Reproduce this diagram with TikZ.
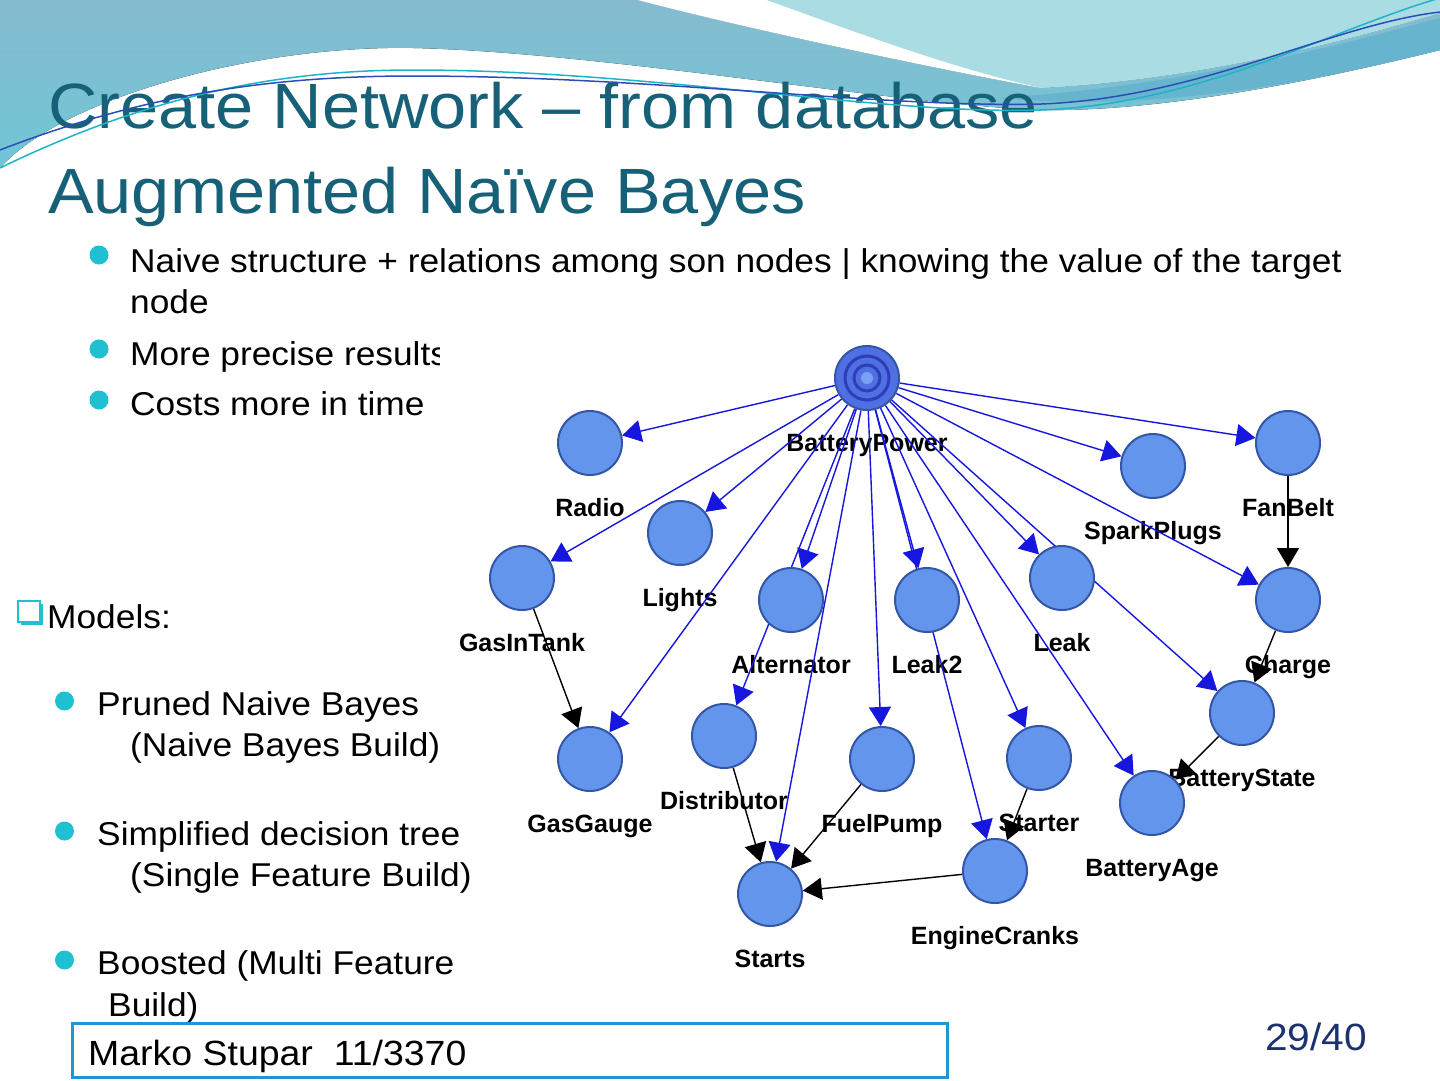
\documentclass[tikz,border=0pt]{standalone}
\usepackage{fontspec}
\setmainfont{Liberation Sans}
\newfontfamily\titlefont[FakeStretch=1.07]{Liberation Sans}
\newfontfamily\slidefont[FakeStretch=1.07]{Liberation Sans}
\usetikzlibrary{positioning,arrows.meta}

\definecolor{titleteal}{RGB}{22,96,120}
\definecolor{bulletcyan}{RGB}{30,192,210}
\definecolor{nodefill}{RGB}{100,149,237}
\definecolor{nodeedge}{RGB}{52,86,166}
\definecolor{bpfill}{RGB}{80,112,226}
\definecolor{ringdark}{RGB}{45,62,188}
\definecolor{ringlight}{RGB}{122,160,246}
\definecolor{edgeblue}{RGB}{22,22,222}
\definecolor{waveteal}{RGB}{134,187,207}
\definecolor{wavecyan}{RGB}{112,198,214}
\definecolor{wavelight}{RGB}{170,220,228}
\definecolor{wavedark}{RGB}{102,180,205}
\definecolor{lineblue}{RGB}{40,80,180}
\definecolor{linecyan}{RGB}{30,180,200}
\definecolor{footblue}{RGB}{30,150,210}
\definecolor{pagenum}{RGB}{28,50,110}

\pgfdeclarelayer{back}
\pgfdeclarelayer{edges}
\pgfsetlayers{back,edges,main}

\tikzset{
  var/.style={circle, draw=nodeedge, fill=nodefill, line width=2pt, minimum size=64pt, inner sep=0pt},
  lbl/.style={font=\bfseries\fontsize{25}{25}\selectfont, text height=18pt, text depth=5pt, inner sep=0pt, below=22pt of #1},
  bluearc/.style={draw=edgeblue, line width=1.4pt, -{Triangle[length=19pt,width=22pt]}},
  blackarc/.style={draw=black, line width=1.4pt, -{Triangle[length=19pt,width=22pt]}},
  txt/.style={anchor=base west, inner sep=0pt, font=\slidefont\fontsize{33}{40}\selectfont},
  titletxt/.style={anchor=base west, inner sep=0pt, text=titleteal, font=\titlefont\fontsize{64}{70}\selectfont}
}

\begin{document}
\begin{tikzpicture}[x=1pt, y=-1pt]
	\useasboundingbox (0,0) rectangle (1440,1080);

	% slide background and waves
	\begin{pgfonlayer}{back}
		\fill[white] (0,0) rectangle (1440,1080);
		\fill[top color=waveteal, bottom color=wavecyan] (0,0) -- (640,0) .. controls (720,22) and (900,62) .. (1041,88) .. controls (1200,80) and (1350,40) .. (1440,13) -- (1440,50) .. controls (1300,85) and (1150,112) .. (1041,110) .. controls (900,105) and (600,52) .. (413,48) .. controls (250,45) and (60,100) .. (0,168) -- cycle;
		\fill[wavelight] (766,0) .. controls (850,30) and (950,70) .. (1041,88) .. controls (1200,80) and (1350,40) .. (1440,13) -- (1440,0) -- cycle;
		\fill[wavedark] (1000,98) .. controls (1200,84) and (1350,42) .. (1440,18) -- (1440,50) .. controls (1300,85) and (1150,112) .. (1000,98) -- cycle;
		\fill[white] (638,0) .. controls (720,22) and (900,62) .. (1041,88) .. controls (950,68) and (850,30) .. (766,0) -- cycle;

		% this bullet is partly hidden by the picture
		\fill[bulletcyan] (99,349) circle (9.5pt);
		\node[txt] (b2) at (130,365) {More precise results};
		\fill[white] (440,330) rectangle (1345,995);
	\end{pgfonlayer}

	% title
	\node[titletxt] (t1) at (48,128) {Create Network – from database};
	\node[titletxt] (t2) at (48,213) {Augmented Naïve Bayes};
	\draw[linecyan, line width=1.5pt] (0,168) .. controls (150,95) and (280,70) .. (413,70) .. controls (650,70) and (880,115) .. (1041,110) .. controls (1200,104) and (1330,30) .. (1440,-2);
	\draw[lineblue, line width=1.5pt] (0,150) .. controls (150,92) and (280,76) .. (413,76) .. controls (650,76) and (880,108) .. (1041,104) .. controls (1200,98) and (1330,25) .. (1440,12);

	% bullets
	\fill[bulletcyan] (99,255) circle (9.5pt);
	\node[txt] (b1) at (130,272) {Naive structure + relations among son nodes | knowing the value of the target};
	\node[txt] (b1b) at (130,313) {node};
	\fill[bulletcyan] (99,400) circle (9.5pt);
	\node[txt] (b3) at (130,415) {Costs more in time};

	\draw[bulletcyan, line width=2.5pt] (18,601) rectangle (40,622);
	\draw[bulletcyan, line width=2.5pt] (21,624) -- (42,624) -- (42,604);
	\node[txt] (models) at (47,628) {Models:};

	\fill[bulletcyan] (64.5,701) circle (9.5pt);
	\node[txt] (m1) at (97,715) {Pruned Naive Bayes};
	\node[txt] (m1b) at (130,756) {(Naive Bayes Build)};
	\fill[bulletcyan] (64.5,831) circle (9.5pt);
	\node[txt] (m2) at (97,845) {Simplified decision tree};
	\node[txt] (m2b) at (130,886) {(Single Feature Build)};
	\fill[bulletcyan] (64.5,960) circle (9.5pt);
	\node[txt] (m3) at (97,974) {Boosted (Multi Feature};
	\node[txt] (m3b) at (108,1016) {Build)};

	% footer
	\draw[footblue, line width=3pt] (72,1023) rectangle (947,1077);
	\node[txt, font=\slidefont\fontsize{35}{40}\selectfont] (author) at (88,1065) {Marko Stupar\ \ 11/3370};
	\node[txt, anchor=base east, text=pagenum, font=\slidefont\fontsize{38}{40}\selectfont] (pg) at (1367,1050) {29/40};

	% network nodes
	\node[var, fill=bpfill] (bp) at (867,378) {};
	\draw[ringdark, line width=3pt] (bp.center) circle (22pt) circle (13pt);
	\fill[ringlight] (bp.center) circle (6pt);
	\node[var] (radio) at (590,443) {};
	\node[var] (lights) at (680,533) {};
	\node[var] (gastank) at (522,578) {};
	\node[var] (alternator) at (791,600) {};
	\node[var] (leaktwo) at (927,600) {};
	\node[var] (leak) at (1062,578) {};
	\node[var] (sparkplugs) at (1153,466) {};
	\node[var] (fanbelt) at (1288,443) {};
	\node[var] (charge) at (1288,600) {};
	\node[var] (batstate) at (1242,713) {};
	\node[var] (gasgauge) at (590,759) {};
	\node[var] (distributor) at (724,736) {};
	\node[var] (fuelpump) at (882,759) {};
	\node[var] (starter) at (1039,758) {};
	\node[var] (batage) at (1152,803) {};
	\node[var] (cranks) at (995,871) {};
	\node[var] (starts) at (770,894) {};

	\begin{pgfonlayer}{edges}
		% labels under the nodes
		\node[lbl=bp] (bpL) {BatteryPower};
		\node[lbl=radio] (radioL) {Radio};
		\node[lbl=lights] (lightsL) {Lights};
		\node[lbl=gastank] (gastankL) {GasInTank};
		\node[lbl=alternator] (alternatorL) {Alternator};
		\node[lbl=leaktwo] (leaktwoL) {Leak2};
		\node[lbl=leak] (leakL) {Leak};
		\node[lbl=sparkplugs] (sparkplugsL) {SparkPlugs};
		\node[lbl=fanbelt] (fanbeltL) {FanBelt};
		\node[lbl=charge] (chargeL) {Charge};
		\node[lbl=batstate] (batstateL) {BatteryState};
		\node[lbl=gasgauge] (gasgaugeL) {GasGauge};
		\node[lbl=distributor] (distributorL) {Distributor};
		\node[lbl=fuelpump] (fuelpumpL) {FuelPump};
		\node[lbl=starter] (starterL) {Starter};
		\node[lbl=batage] (batageL) {BatteryAge};
		\node[lbl=cranks] (cranksL) {EngineCranks};
		\node[lbl=starts] (startsL) {Starts};

		% arcs from the class node
		\foreach \t in {radio,lights,gastank,gasgauge,alternator,distributor,starts,fuelpump,leaktwo,cranks,starter,leak,batage,batstate,charge,sparkplugs,fanbelt}
			\draw[bluearc] (bp) -- (\t);

		% arcs among the son nodes
		\foreach \a/\b in {gastank/gasgauge,fanbelt/charge,charge/batstate,batstate/batage,distributor/starts,fuelpump/starts,cranks/starts,starter/cranks}
			\draw[blackarc] (\a) -- (\b);
	\end{pgfonlayer}
\end{tikzpicture}
\end{document}
